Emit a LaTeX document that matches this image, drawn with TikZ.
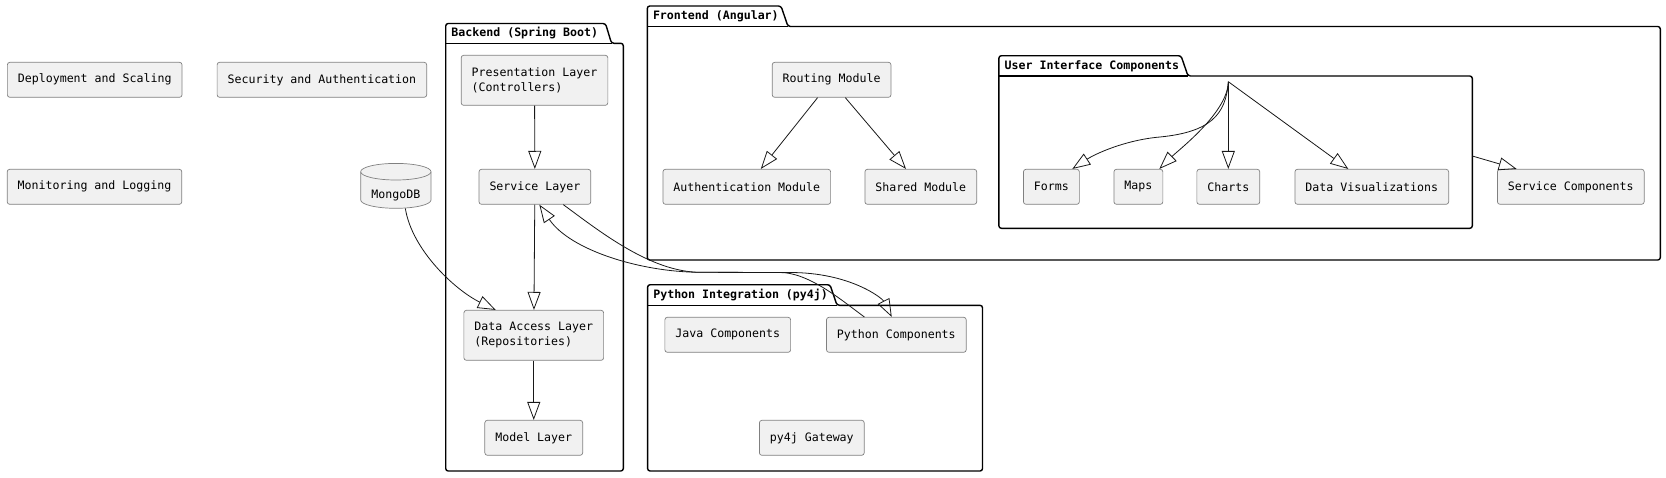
\documentclass[tikz,border=0pt]{standalone}
\usepackage{fontspec}
\setmonofont{DejaVu Sans Mono}
\usetikzlibrary{positioning, arrows.meta}
\definecolor{boxfill}{HTML}{F1F1F1}
\definecolor{edgecol}{HTML}{181818}
\newcommand{\umlfont}{\ttfamily\fontsize{11.6}{15.3}\selectfont}
\tikzset{
comp/.style={draw=black!50, fill=boxfill, rounded corners=2.5pt, line width=0.7pt, inner xsep=10.5pt, inner ysep=3pt, minimum height=35pt, font=\umlfont, align=left},
pkg/.style={draw=black, line width=1.4pt, rounded corners=2.5pt},
pkglabel/.style={font=\umlfont\bfseries, anchor=base west, inner sep=0pt},
ext/.style={-{Triangle[open, length=18pt, width=13pt]}, draw=edgecol, line width=0.8pt},
}

\begin{document}
\begin{tikzpicture}[x=1pt, y=-1pt]
    \useasboundingbox (0,0) rectangle (1666,477);

    %packages
    \draw[pkg] (445.7,471) -- (445.7,23.5) -- (605.5,23.5) -- (611.5,43.3) -- (623.3,43.3) -- (623.3,471) -- cycle;
    \draw[pkg] (445.7,43.3) -- (611.5,43.3);
    \draw[pkg] (647.3,260) -- (647.3,6) -- (781,6) -- (788,26.5) -- (1660.3,26.5) -- (1660.3,260) -- cycle;
    \draw[pkg] (647.3,26.5) -- (788,26.5);
    \draw[pkg] (998.9,228.3) -- (998.9,55.7) -- (1181,55.7) -- (1188,76) -- (1472.3,76) -- (1472.3,228.3) -- cycle;
    \draw[pkg] (998.9,76) -- (1188,76);
    \draw[pkg] (647.6,471) -- (647.6,284.7) -- (830,284.7) -- (837,305.3) -- (982.5,305.3) -- (982.5,471) -- cycle;
    \draw[pkg] (647.6,305.3) -- (837,305.3);

    \node[pkglabel]   (backendlbl) at (451.2,36)    {Backend (Spring Boot)};
    \node[pkglabel]  (frontendlbl) at (652.8,19.5)  {Frontend (Angular)};
    \node[pkglabel]        (uilbl) at (1004.4,69)   {User Interface Components};
    \node[pkglabel]    (pythonlbl) at (653.1,298.5) {Python Integration (py4j)};

    %loose nodes
    \node[comp]     (deploy) at (94.7,79.8)  {Deployment and Scaling};
    \node[comp]   (security) at (321.9,79.8) {Security and Authentication};
    \node[comp]    (monitor) at (94.5,186.8) {Monitoring and Logging};

    %database
    \node[minimum width=70.3pt, minimum height=45pt, inner sep=0pt] (mongo) at (395.85,185.8) {};
    \draw[comp, rounded corners=0pt] (360.7,171.7) -- (360.7,200) arc[start angle=180, end angle=0, x radius=35.15, y radius=8.3]
        -- (431,171.7) arc[start angle=0, end angle=-180, x radius=35.15, y radius=8.3] -- cycle;
    \draw[comp, rounded corners=0pt] (360.7,171.7) arc[start angle=180, end angle=0, x radius=35.15, y radius=8.3];
    \node[font=\umlfont] (mongolbl) at (395.85,196) {MongoDB};

    %backend
    \node[comp, minimum height=50pt] (presentation) at (534.5,80.3)  {Presentation Layer\\(Controllers)};
    \node[comp]                           (service) at (534.9,186.8) {Service Layer};
    \node[comp, minimum height=50pt]   (dataaccess) at (533.75,335.3) {Data Access Layer\\(Repositories)};
    \node[comp]                             (model) at (533.75,437.8) {Model Layer};

    %frontend
    \node[comp]    (routing) at (831.6,79.8)   {Routing Module};
    \node[comp]    (authmod) at (746.8,186.8)  {Authentication Module};
    \node[comp]     (shared) at (920.8,186.8)  {Shared Module};
    \node[comp]      (forms) at (1051.4,186.8) {Forms};
    \node[comp]       (maps) at (1138.4,186.8) {Maps};
    \node[comp]     (charts) at (1228.3,186.8) {Charts};
    \node[comp]    (datavis) at (1371.8,186.8) {Data Visualizations};
    \node[comp]   (servcomp) at (1570.8,186.8) {Service Components};

    %python integration
    \node[comp]       (java) at (727.75,334.8) {Java Components};
    \node[comp]     (python) at (896.35,334.8) {Python Components};
    \node[comp]    (gateway) at (811.8,437.8)  {py4j Gateway};

    %backend edges
    \draw[ext] (presentation) -- (service);
    \draw[ext] (service) -- (dataaccess);
    \draw[ext] (dataaccess) -- (model);
    \draw[ext] ([xshift=9.5pt]mongo.south) .. controls (412,250) and (455,290) .. ([xshift=-38pt]dataaccess.north);

    %backend <-> python
    \draw[ext] ([xshift=28.4pt]service.south) .. controls (598,230) and (650,272) .. (700,272.3)
        -- (790,272.5) .. controls (850,272.5) and (882,298) .. ([xshift=-4.6pt]python.north);
    \draw[ext] ([xshift=-32pt]python.north) .. controls (845,303) and (810,272.5) .. (780,272.5)
        -- (700,272.3) .. controls (640,272) and (570,250) .. ([xshift=4.4pt]service.south);

    %frontend edges
    \draw[ext] ([xshift=-14pt]routing.south) -- ([xshift=14pt]authmod.north);
    \draw[ext] ([xshift=13.7pt]routing.south) -- ([xshift=-14.8pt]shared.north);

    %ui components edges
    \coordinate (uihub) at (1228.3,81.7);
    \coordinate (uiedge) at (1472.3,156);
    \draw[ext] (uihub) .. controls (1226,115) and (1210,132) .. (1160,137)
        .. controls (1125,140) and (1095,154) .. ([xshift=20.9pt]forms.north);
    \draw[ext] (uihub) .. controls (1228,112) and (1179.3,149.3) .. ([xshift=20.9pt]maps.north);
    \draw[ext] (uihub) -- (charts.north);
    \draw[ext] (uihub) -- ([xshift=-23.5pt]datavis.north);
    \draw[ext] (uiedge) -- ([xshift=-54.1pt]servcomp.north);

\end{tikzpicture}
\end{document}
